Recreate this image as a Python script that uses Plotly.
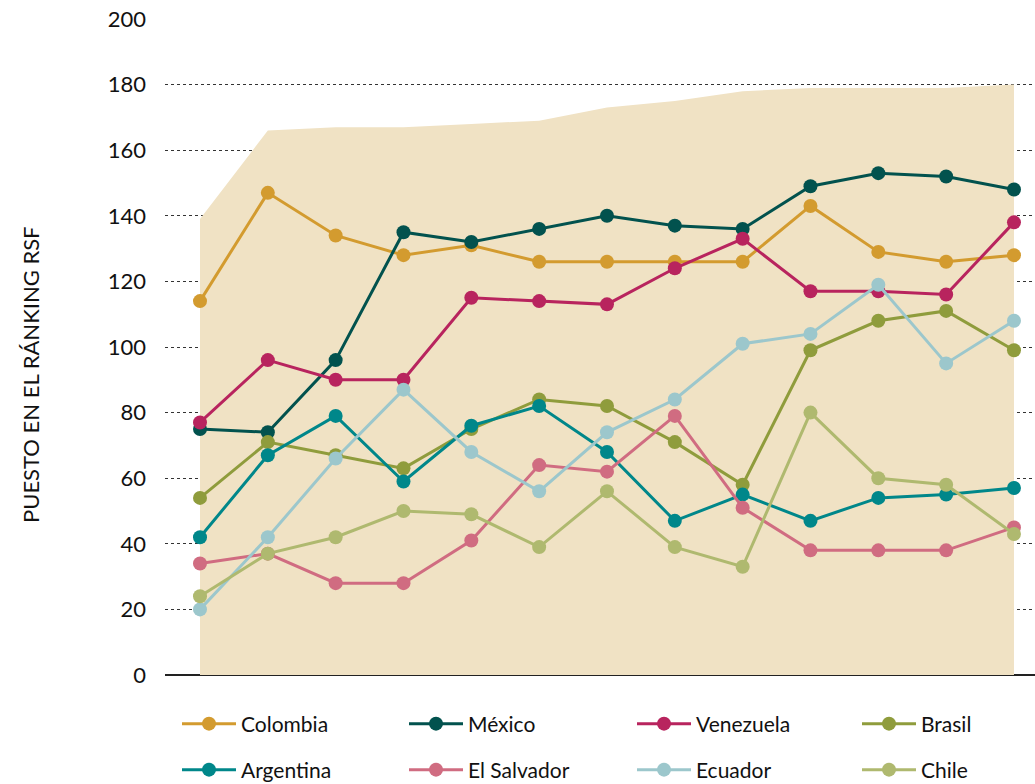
import plotly.graph_objects as go

# 13 editions of the RSF index (no x labels in the original)
periodos = list(range(13))

# countries ranked in each edition (shaded background)
total_paises = [139, 166, 167, 167, 168, 169, 173, 175, 178, 179, 179, 179, 180]

colombia = [114, 147, 134, 128, 131, 126, 126, 126, 126, 143, 129, 126, 128]
mexico = [75, 74, 96, 135, 132, 136, 140, 137, 136, 149, 153, 152, 148]
venezuela = [77, 96, 90, 90, 115, 114, 113, 124, 133, 117, 117, 116, 138]
brasil = [54, 71, 67, 63, 75, 84, 82, 71, 58, 99, 108, 111, 99]
argentina = [42, 67, 79, 59, 76, 82, 68, 47, 55, 47, 54, 55, 57]
el_salvador = [34, 37, 28, 28, 41, 64, 62, 79, 51, 38, 38, 38, 45]
ecuador = [20, 42, 66, 87, 68, 56, 74, 84, 101, 104, 119, 95, 108]
chile = [24, 37, 42, 50, 49, 39, 56, 39, 33, 80, 60, 58, 43]

paises = ["Colombia", "México", "Venezuela", "Brasil",
          "Argentina", "El Salvador", "Ecuador", "Chile"]
valores = [colombia, mexico, venezuela, brasil,
           argentina, el_salvador, ecuador, chile]
colores = ["#D39B2F", "#02524E", "#B8245E", "#8F9C3C",
           "#00878A", "#D06C81", "#9CC7CC", "#AFB96F"]

FONT = "Lato, 'Open Sans', sans-serif"
W, H = 1035, 784

fig = go.Figure()
fig.add_trace(go.Scatter(
    x=periodos, y=total_paises, mode="lines", fill="tozeroy",
    fillcolor="#F0E2C4", line=dict(width=0, color="#F0E2C4"),
    showlegend=False, hoverinfo="skip"))

# one small legend per entry, laid out as a 4x2 grid under the plot
col_px = [177, 404, 632, 857]
row_px = [724, 770]
legends = {}
for i, (name, vals, color) in enumerate(zip(paises, valores, colores)):
    key = "legend" if i == 0 else f"legend{i + 1}"
    fig.add_trace(go.Scatter(
        x=periodos, y=vals, mode="lines+markers", name=name, legend=key,
        line=dict(color=color, width=3),
        marker=dict(color=color, size=14)))
    legends[key] = dict(
        xref="container", yref="container",
        x=col_px[i % 4] / W, y=1 - row_px[i // 4] / H,
        xanchor="left", yanchor="middle", itemwidth=54,
        font=dict(family=FONT, size=21, color="#111"),
        bgcolor="rgba(0,0,0,0)")

fig.update_layout(
    width=W, height=H,
    margin=dict(l=165, r=0, t=19, b=109, autoexpand=False),
    paper_bgcolor="white", plot_bgcolor="white",
    font=dict(family=FONT, size=21, color="#111"),
    xaxis=dict(range=[-0.516, 12.31], showticklabels=False, showgrid=False,
               zeroline=False, showline=False, ticks=""),
    yaxis=dict(range=[0, 200], dtick=20, showgrid=True,
               gridcolor="#333", griddash="dot", gridwidth=1,
               zeroline=True, zerolinecolor="#222", zerolinewidth=2,
               ticks="", ticklabelstandoff=18,
               tickfont=dict(family=FONT, size=22, color="#111")),
    annotations=[dict(
        text="PUESTO EN EL RÁNKING RSF", textangle=-90,
        xref="paper", yref="paper", x=(30 - 165) / 870, y=(675 - 375) / 656,
        xanchor="center", yanchor="middle", showarrow=False,
        font=dict(family=FONT, size=22, color="#111"))],
    **legends,
)

# page body has an 8px default margin; drop it so the figure fills the window
fig.write_html("out.html", config={"displayModeBar": False},
               post_script="document.body.style.margin='0';")
